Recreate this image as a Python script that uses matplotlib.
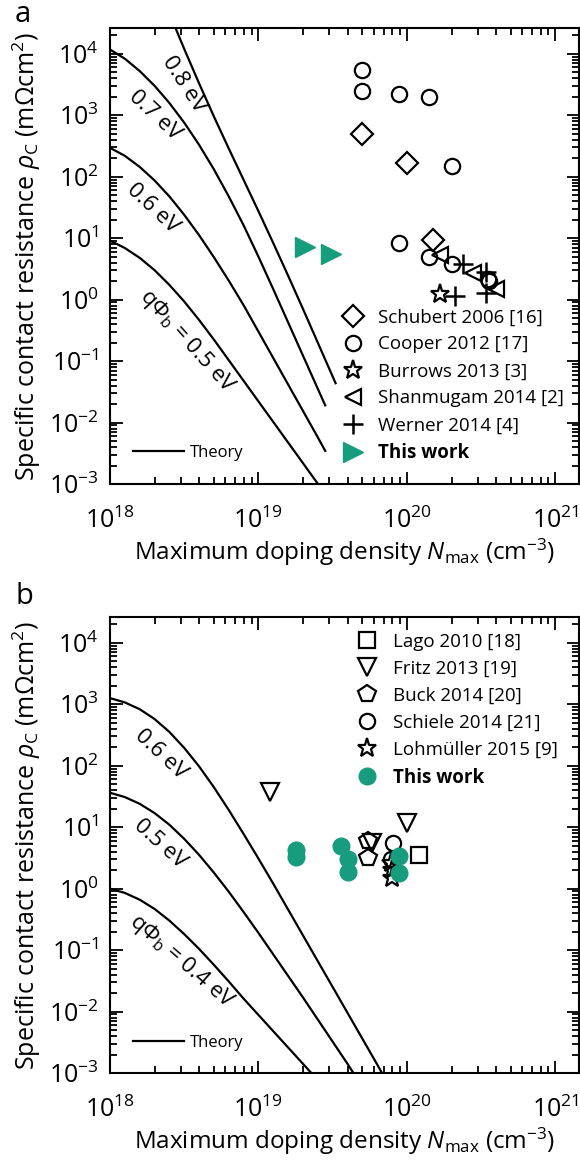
import numpy as np
import matplotlib
matplotlib.use("Agg")
import matplotlib.pyplot as plt
from matplotlib.lines import Line2D
from matplotlib.ticker import LogLocator, NullFormatter

plt.rcParams['font.family'] = ['Open Sans', 'DejaVu Sans']
plt.rcParams['mathtext.fontset'] = 'custom'
plt.rcParams['mathtext.rm'] = 'Open Sans'
plt.rcParams['mathtext.it'] = 'Open Sans:italic'
plt.rcParams['mathtext.bf'] = 'Open Sans:bold'

GREEN = '#179c7d'

# ---- panel a: literature values (N in cm^-3, rho in mOhm cm^2)
schubert_n = [5.0e19, 1.0e20, 1.5e20]
schubert_rho = [500, 170, 9.2]
cooper_n = [5.0e19, 5.0e19, 8.9e19, 1.4e20, 2.0e20, 8.9e19, 1.4e20, 2.0e20, 3.5e20, 3.6e20]
cooper_rho = [5500, 2500, 2250, 1950, 150, 8.4, 4.9, 3.8, 2.2, 2.0]
burrows_n = [1.67e20]
burrows_rho = [1.23]
shanmugam_n = [1.67e20, 2.8e20, 4.0e20]
shanmugam_rho = [5.3, 2.7, 1.5]
werner_n = [2.4e20, 3.4e20, 3.4e20, 2.1e20]
werner_rho = [3.8, 2.8, 1.3, 1.15]
thiswork_a_n = [2.05e19, 3.1e19]
thiswork_a_rho = [7.1, 5.5]

# theory curves panel a (log10 N, log10 rho)
theo_a_05_logn = [18.0, 18.1, 18.2, 18.3, 18.4, 18.5, 18.6, 18.7, 18.8, 18.9, 19.0, 19.1, 19.2, 19.3, 19.4]
theo_a_05_logr = [0.96, 0.84, 0.68, 0.48, 0.24, -0.03, -0.33, -0.65, -0.985, -1.32, -1.655, -1.99,
                  -2.325, -2.66, -2.995]
theo_a_06_logn = [18.0, 18.1, 18.2, 18.3, 18.4, 18.5, 18.6, 18.7, 18.8, 18.9, 19.0, 19.1, 19.2, 19.3,
                  19.4, 19.45]
theo_a_06_logr = [2.47, 2.34, 2.16, 1.94, 1.68, 1.38, 1.05, 0.69, 0.31, -0.09, -0.52, -0.95, -1.38,
                  -1.81, -2.24, -2.46]
theo_a_07_logn = [18.0, 18.1, 18.2, 18.3, 18.4, 18.5, 18.6, 18.7, 18.8, 18.9, 19.0, 19.1, 19.2, 19.3,
                  19.4, 19.45]
theo_a_07_logr = [4.07, 3.92, 3.72, 3.48, 3.20, 2.88, 2.52, 2.12, 1.68, 1.21, 0.70, 0.17, -0.37,
                  -0.91, -1.45, -1.72]
theo_a_08_logn = [18.4, 18.5, 18.6, 18.7, 18.8, 18.9, 19.0, 19.1, 19.2, 19.3, 19.4, 19.52]
theo_a_08_logr = [4.66, 4.08, 3.52, 2.98, 2.46, 1.95, 1.44, 0.92, 0.39, -0.15, -0.70, -1.36]

# ---- panel b
lago_n = [1.2e20]
lago_rho = [3.5]
fritz_n = [1.2e19, 1.0e20, 5.8e19]
fritz_rho = [37, 11.5, 5.5]
buck_n = [5.5e19, 5.5e19]
buck_rho = [6.0, 3.2]
schiele_n = [8.1e19, 7.8e19]
schiele_rho = [5.6, 3.0]
lohmueller_n = [7.8e19, 7.9e19, 8.0e19]
lohmueller_rho = [2.6, 2.0, 1.5]
thiswork_b_n = [1.78e19, 1.78e19, 3.6e19, 4.0e19, 4.0e19, 8.8e19, 8.8e19]
thiswork_b_rho = [4.3, 3.3, 5.0, 3.0, 1.9, 3.4, 1.8]

theo_b_04_logn = [18.0, 18.1, 18.2, 18.3, 18.4, 18.5, 18.6, 18.7, 18.8, 18.9, 19.0, 19.1, 19.2, 19.3, 19.36]
theo_b_04_logr = [0.0, -0.07, -0.18, -0.33, -0.52, -0.74, -0.98, -1.24, -1.51, -1.79, -2.055, -2.32,
                  -2.585, -2.85, -3.01]
theo_b_05_logn = [18.0, 18.1, 18.2, 18.3, 18.4, 18.5, 18.6, 18.7, 18.8, 18.9, 19.0, 19.1, 19.2, 19.3,
                  19.4, 19.5, 19.6, 19.64]
theo_b_05_logr = [1.56, 1.49, 1.38, 1.23, 1.04, 0.81, 0.55, 0.26, -0.05, -0.38, -0.72, -1.07, -1.42,
                  -1.77, -2.13, -2.49, -2.85, -3.0]
theo_b_06_logn = [18.0, 18.1, 18.2, 18.3, 18.4, 18.5, 18.6, 18.7, 18.8, 18.9, 19.0, 19.1, 19.2, 19.3,
                  19.4, 19.5, 19.6, 19.7, 19.8, 19.83]
theo_b_06_logr = [3.10, 3.03, 2.92, 2.76, 2.55, 2.29, 1.99, 1.65, 1.28, 0.89, 0.49, 0.08, -0.34, -0.76,
                  -1.18, -1.60, -2.02, -2.44, -2.86, -2.99]

fig = plt.figure(figsize=(5.8, 11.67), dpi=100)
ax_a = fig.add_axes([110/580, 1-484/1167, 469/580, 456/1167])
ax_b = fig.add_axes([110/580, 1-1073/1167, 469/580, 456/1167])


def style_axes(ax):
    ax.set_xscale('log')
    ax.set_yscale('log')
    ax.set_xlim(1e18, 10**21.16)
    ax.set_ylim(1e-3, 10**4.42)
    ax.set_xticks([1e18, 1e19, 1e20, 1e21])
    ax.set_yticks([1e-3, 1e-2, 1e-1, 1e0, 1e1, 1e2, 1e3, 1e4])
    for axis in (ax.xaxis, ax.yaxis):
        axis.set_minor_locator(LogLocator(base=10, subs=np.arange(2, 10), numticks=30))
        axis.set_minor_formatter(NullFormatter())
    ax.tick_params(which='both', direction='in', top=True, right=True, width=1.3)
    ax.tick_params(which='major', length=9, labelsize=18, pad=8)
    ax.tick_params(axis='x', which='major', pad=17)
    ax.tick_params(which='minor', length=5)
    for s in ax.spines.values():
        s.set_linewidth(1.5)
    ax.set_xlabel(r'Maximum doping density $N_{\rm max}$ (cm$^{-3}$)', fontsize=17.5, labelpad=2)
    ax.set_ylabel(r'Specific contact resistance $\rho_{\rm C}$ (m$\Omega$cm$^{2}$)', fontsize=18, labelpad=4)


def theory(ax, logn, logr):
    ax.plot(10**np.array(logn), 10**np.array(logr), color='black', lw=1.6)


open_kw = dict(linestyle='none', mfc='none', mec='black', mew=1.6)
leg_kw = dict(loc='upper left', frameon=False, fontsize=13.5, handlelength=1.0, handletextpad=0.85,
              labelspacing=0.48, borderpad=0, borderaxespad=0)
theo_kw = dict(loc='center left', frameon=False, fontsize=12, handlelength=3.05, handletextpad=0.36,
               borderpad=0, borderaxespad=0)
lab_kw = dict(ha='center', va='center', rotation_mode='anchor', fontsize=16)
tl = Line2D([], [], color='black', lw=1.6)

# ---------------- panel a
style_axes(ax_a)
for ln, lr in [(theo_a_05_logn, theo_a_05_logr), (theo_a_06_logn, theo_a_06_logr),
               (theo_a_07_logn, theo_a_07_logr), (theo_a_08_logn, theo_a_08_logr)]:
    theory(ax_a, ln, lr)

h1, = ax_a.plot(schubert_n, schubert_rho, marker='D', ms=11, label='Schubert 2006 [16]', **open_kw)
h2, = ax_a.plot(cooper_n, cooper_rho, marker='o', ms=11, label='Cooper 2012 [17]', **open_kw)
h3, = ax_a.plot(burrows_n, burrows_rho, marker='*', ms=14, label='Burrows 2013 [3]', **open_kw)
h4, = ax_a.plot(shanmugam_n, shanmugam_rho, marker='<', ms=12, label='Shanmugam 2014 [2]', **open_kw)
h5, = ax_a.plot(werner_n, werner_rho, marker='+', ms=14, label='Werner 2014 [4]',
                linestyle='none', color='black', mew=1.8)
h6, = ax_a.plot(thiswork_a_n, thiswork_a_rho, marker='>', ms=15, linestyle='none',
                color=GREEN, mec=GREEN, label='This work')

leg = ax_a.legend(handles=[h1, h2, h3, h4, h5, h6], bbox_to_anchor=(0.498, 0.385), **leg_kw)
leg.get_texts()[-1].set_fontweight('bold')
ax_a.add_artist(leg)
ax_a.legend(handles=[tl], labels=['Theory'], bbox_to_anchor=(0.049, 0.068), **theo_kw)

ax_a.text(10**18.50, 10**3.50, '0.8 eV', rotation=-57, **lab_kw)
ax_a.text(10**18.30, 10**3.0, '0.7 eV', rotation=-43, **lab_kw)
ax_a.text(10**18.29, 10**1.48, '0.6 eV', rotation=-43, **lab_kw)
ax_a.text(10**18.52, 10**-0.68, r'q$\Phi_{\rm b}$ = 0.5 eV', rotation=-48, **lab_kw)

# ---------------- panel b
style_axes(ax_b)
for ln, lr in [(theo_b_04_logn, theo_b_04_logr), (theo_b_05_logn, theo_b_05_logr),
               (theo_b_06_logn, theo_b_06_logr)]:
    theory(ax_b, ln, lr)

g1, = ax_b.plot(lago_n, lago_rho, marker='s', ms=11, label='Lago 2010 [18]', **open_kw)
g2, = ax_b.plot(fritz_n, fritz_rho, marker='v', ms=13, label='Fritz 2013 [19]', **open_kw)
g3, = ax_b.plot(buck_n, buck_rho, marker='p', ms=13, label='Buck 2014 [20]', **open_kw)
g4, = ax_b.plot(schiele_n, schiele_rho, marker='o', ms=11, label='Schiele 2014 [21]', **open_kw)
g5, = ax_b.plot(lohmueller_n, lohmueller_rho, marker='*', ms=14, label='Lohmüller 2015 [9]', **open_kw)
g6, = ax_b.plot(thiswork_b_n, thiswork_b_rho, marker='o', ms=12, linestyle='none',
                color=GREEN, mec=GREEN, label='This work')

leg = ax_b.legend(handles=[g1, g2, g3, g4, g5, g6], bbox_to_anchor=(0.529, 0.965), **leg_kw)
leg.get_texts()[-1].set_fontweight('bold')
ax_b.add_artist(leg)
ax_b.legend(handles=[tl], labels=['Theory'], bbox_to_anchor=(0.049, 0.066), **theo_kw)

ax_b.text(10**18.34, 10**2.18, '0.6 eV', rotation=-43, **lab_kw)
ax_b.text(10**18.34, 10**0.73, '0.5 eV', rotation=-42, **lab_kw)
ax_b.text(10**18.48, 10**-1.18, r'q$\Phi_{\rm b}$ = 0.4 eV', rotation=-41, **lab_kw)

fig.text(15/580, 1-15/1167, 'a', fontsize=21, ha='left', va='center')
fig.text(15/580, 1-597/1167, 'b', fontsize=21, ha='left', va='center')

fig.savefig('out.png', dpi=100)
